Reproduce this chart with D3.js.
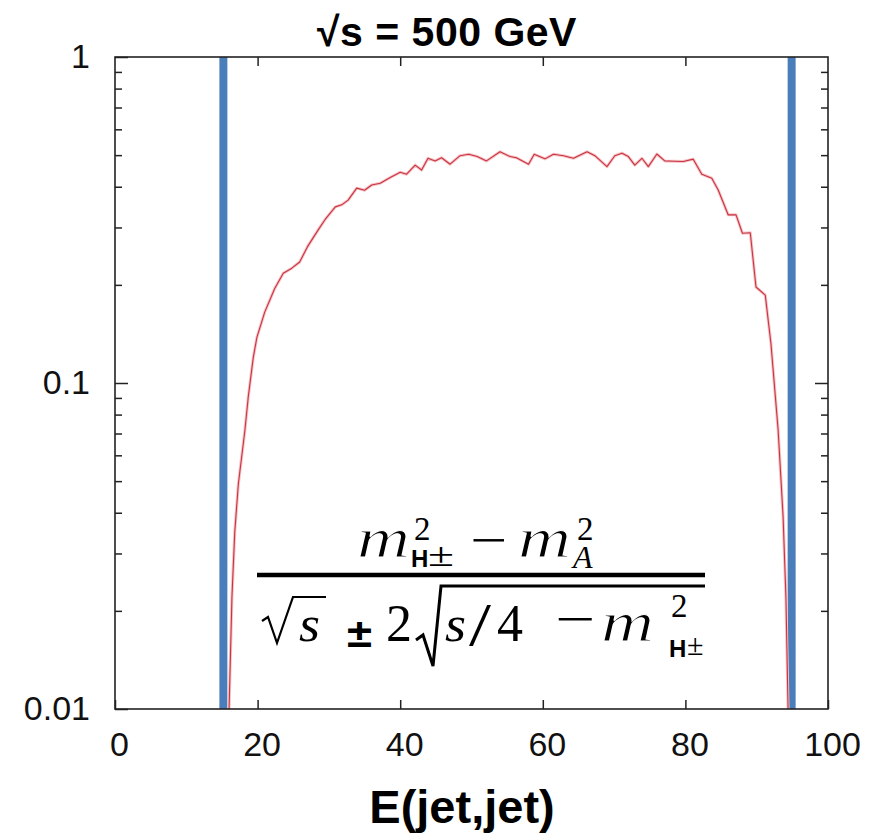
<!DOCTYPE html>
<html>
<head>
<meta charset="utf-8">
<script src="https://cdn.jsdelivr.net/npm/d3@7"></script>
<style>
  html, body { margin: 0; padding: 0; background: #fff; }
  svg { display: block; }
</style>
</head>
<body>
<svg id="chart" width="883" height="835"></svg>
<script>
// Dijet energy distribution (fraction per bin, log scale)
const energy = [16.0,16.4,16.8,17.3,18.2,18.7,19.4,19.9,21.0,22.4,
  23.6,24.8,25.9,27.0,28.5,29.5,30.9,31.8,32.7,33.9,
  35.0,36.0,37.2,38.6,40.0,40.9,42.1,43.0,43.9,44.9,
  45.8,47.0,48.4,49.6,50.8,52.1,54.0,55.4,56.3,58.0,
  58.8,60.3,61.5,62.9,64.3,66.2,67.3,69.0,70.1,71.1,
  72.0,72.9,73.9,74.8,76.0,77.1,78.4,79.7,81.1,82.3,
  83.7,84.6,86.0,87.1,88.0,89.1,89.9,91.2,92.0,93.0,
  93.7,94.1,94.4];
const fraction = [0.010,0.022,0.035,0.049,0.071,0.091,0.120,0.138,0.165,0.195,
  0.217,0.225,0.235,0.262,0.295,0.318,0.347,0.352,0.364,0.396,
  0.390,0.405,0.410,0.427,0.443,0.437,0.466,0.450,0.489,0.480,
  0.491,0.469,0.498,0.503,0.495,0.480,0.512,0.495,0.491,0.469,
  0.503,0.487,0.503,0.498,0.489,0.512,0.498,0.461,0.498,0.507,
  0.495,0.466,0.489,0.461,0.504,0.480,0.479,0.478,0.486,0.437,
  0.425,0.391,0.328,0.328,0.288,0.289,0.197,0.186,0.132,0.072,
  0.039,0.022,0.010];

// Kinematic endpoints (vertical markers)
const endpoints = [15.2, 94.9];

const xTicks = [0, 20, 40, 60, 80, 100];
const yMajor = [0.01, 0.1, 1];
const yTickLabels = ["0.01", "0.1", "1"];
const yMinor = [0.02,0.03,0.04,0.05,0.06,0.07,0.08,0.09,0.2,0.3,0.4,0.5,0.6,0.7,0.8,0.9];

const titleText = "\u221As = 500 GeV";
const xTitle = "E(jet,jet)";

const svg = d3.select("#chart");
const L = 115, R = 828, T = 57, B = 709;

const x = d3.scaleLinear().domain([0, 100]).range([L, R]);
const y = d3.scaleLog().domain([0.01, 1]).range([B, T]);

const sans = "'Liberation Sans', Arial, sans-serif";
const serif = "'Liberation Serif', 'Times New Roman', serif";

// Title
svg.append("text")
  .attr("x", 447).attr("y", 46)
  .attr("text-anchor", "middle")
  .style("font-family", sans)
  .style("font-weight", "bold")
  .style("font-size", "41px")
  .style("letter-spacing", "0.5px")
  .text(titleText);

// Endpoint markers
svg.selectAll("line.endpoint")
  .data(endpoints)
  .join("line")
  .attr("class", "endpoint")
  .attr("x1", d => x(d)).attr("x2", d => x(d))
  .attr("y1", T).attr("y2", B)
  .attr("stroke", "#4a7ebb")
  .attr("stroke-width", 8);

// Distribution curve
const pts = energy.map((e, i) => [e, fraction[i]]);
const line = d3.line().x(d => x(d[0])).y(d => y(d[1]));
svg.append("path")
  .datum(pts)
  .attr("d", line)
  .attr("fill", "none")
  .attr("stroke", "#f6c2c6")
  .attr("stroke-width", 3)
  .attr("stroke-linejoin", "round");
svg.append("path")
  .datum(pts)
  .attr("d", line)
  .attr("fill", "none")
  .attr("stroke", "#c83440")
  .attr("stroke-width", 1.1)
  .attr("stroke-linejoin", "round");

// Axes
const axisFont = g => g.selectAll("text")
  .style("font-family", sans)
  .style("font-size", "34px")
  .attr("fill", "#111");

const gx = svg.append("g")
  .attr("transform", `translate(0,${B})`)
  .call(d3.axisBottom(x).tickValues(xTicks).tickSizeInner(-9).tickSizeOuter(0).tickPadding(23).tickFormat(d3.format("d")));
gx.select(".domain").remove();
gx.selectAll("text").attr("x", 4);
axisFont(gx);

const gxTop = svg.append("g")
  .attr("transform", `translate(0,${T})`)
  .call(d3.axisTop(x).tickValues(xTicks.slice(1, -1)).tickSizeInner(-9).tickSizeOuter(0).tickFormat(""));
gxTop.select(".domain").remove();

const gy = svg.append("g")
  .attr("transform", `translate(${L},0)`)
  .call(d3.axisLeft(y).tickValues(yMajor).tickSizeInner(-13).tickSizeOuter(0).tickPadding(25)
    .tickFormat((d, i) => yTickLabels[i]));
gy.select(".domain").remove();
axisFont(gy);

const gyMinor = svg.append("g")
  .attr("transform", `translate(${L},0)`)
  .call(d3.axisLeft(y).tickValues(yMinor).tickSizeInner(-7).tickSizeOuter(0).tickFormat(""));
gyMinor.select(".domain").remove();

const gyR = svg.append("g")
  .attr("transform", `translate(${R},0)`)
  .call(d3.axisRight(y).tickValues([0.1]).tickSizeInner(-13).tickSizeOuter(0).tickFormat(""));
gyR.select(".domain").remove();
const gyRMinor = svg.append("g")
  .attr("transform", `translate(${R},0)`)
  .call(d3.axisRight(y).tickValues(yMinor).tickSizeInner(-7).tickSizeOuter(0).tickFormat(""));
gyRMinor.select(".domain").remove();

svg.selectAll(".tick line").attr("stroke", "#222").attr("stroke-width", 1.5);

// Frame
svg.append("rect")
  .attr("x", L).attr("y", T).attr("width", R - L).attr("height", B - T)
  .attr("fill", "none").attr("stroke", "#222").attr("stroke-width", 1.6);

// X axis title
svg.append("text")
  .attr("x", 462).attr("y", 823)
  .attr("text-anchor", "middle")
  .style("font-family", sans)
  .style("font-weight", "bold")
  .style("font-size", "47px")
  .text(xTitle);

// Endpoint formula: (m_H±^2 - m_A^2) / (sqrt(s) ± 2 sqrt(s/4 - m_H±^2))
const f = svg.append("g").attr("class", "formula");
function piece(parent, p) {
  const s = parent.append("tspan")
    .attr("x", p.x).attr("y", p.y)
    .style("font-family", p.sans ? sans : serif)
    .style("font-style", p.italic ? "italic" : "normal")
    .style("font-weight", p.bold ? "bold" : "normal")
    .style("font-size", p.size + "px")
    .text(p.t);
  if (p.w) s.attr("textLength", p.w).attr("lengthAdjust", "spacingAndGlyphs");
  // thin the widened italic glyphs back to a light stroke weight
  if (p.thin) s.attr("stroke", "#fff").attr("stroke-width", 1.1);
  return s;
}
const numerator = [
  {t: "m", x: 357, y: 557, size: 57, italic: true, w: 53, thin: true},
  {t: "2", x: 414, y: 540, size: 33},
  {t: "H", x: 411, y: 567, size: 24, sans: true, bold: true},
  {t: "\u00B1", x: 428, y: 566, size: 34, w: 26},
  {t: "\u2212", x: 470, y: 557, size: 50, w: 37},
  {t: "m", x: 518, y: 557, size: 57, italic: true, w: 53, thin: true},
  {t: "2", x: 577, y: 540, size: 33},
  {t: "A", x: 573, y: 568, size: 32, italic: true}
];
const denominator = [
  {t: "s", x: 299, y: 641, size: 50, italic: true, w: 21},
  {t: "\u00B1", x: 347, y: 647, size: 40, sans: true, bold: true, w: 25},
  {t: "2", x: 386, y: 641, size: 52},
  {t: "s", x: 445, y: 641, size: 50, italic: true, w: 21},
  {t: "/", x: 469, y: 645, size: 62, w: 22},
  {t: "4", x: 497, y: 641, size: 52},
  {t: "\u2212", x: 555, y: 636, size: 50, w: 40},
  {t: "m", x: 601, y: 641, size: 57, italic: true, w: 53, thin: true},
  {t: "2", x: 671, y: 617, size: 33},
  {t: "H", x: 669, y: 657, size: 24, sans: true, bold: true},
  {t: "\u00B1", x: 687, y: 655, size: 30}
];
const numText = f.append("text").attr("fill", "#000");
numerator.forEach(p => piece(numText, p));
const denText = f.append("text").attr("fill", "#000");
denominator.forEach(p => piece(denText, p));

// fraction bar and radical signs
f.append("line").attr("x1", 257).attr("x2", 705).attr("y1", 575).attr("y2", 575)
  .attr("stroke", "#000").attr("stroke-width", 4.5);
f.append("path").attr("d", "M262,621 L268,617 L277,643 L293,597 L326,597")
  .attr("fill", "none").attr("stroke", "#000").attr("stroke-width", 2.2);
f.append("path").attr("d", "M416,640 L423,635 L433,666 L441,586 L705,586")
  .attr("fill", "none").attr("stroke", "#000").attr("stroke-width", 3);
</script>
</body>
</html>
